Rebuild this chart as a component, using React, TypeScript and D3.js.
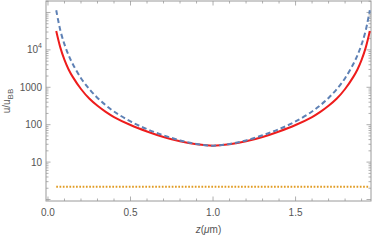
import * as d3 from "d3";

// values (z in micrometres, ratio u/u_BB)
const zValues = [0.05, 0.075, 0.1, 0.125, 0.15, 0.2, 0.25, 0.3, 0.35, 0.4, 0.5, 0.6, 0.7, 0.8, 0.9, 1.0,
  1.1, 1.2, 1.3, 1.4, 1.5, 1.6, 1.65, 1.7, 1.75, 1.8, 1.85, 1.875, 1.9, 1.925, 1.95];
const redValues = [32000, 11500, 5400, 3000, 1900, 900, 500, 320, 220, 160, 98, 66, 47, 36, 30, 27.5,
  30, 36, 47, 66, 98, 160, 220, 320, 500, 900, 1900, 3000, 5400, 11500, 32000];
const blueValues = [115000, 33000, 14000, 7200, 4200, 1750, 900, 520, 330, 225, 122, 76, 52, 38, 30.5, 27.5,
  30.5, 38, 52, 76, 122, 225, 330, 520, 900, 1750, 4200, 7200, 14000, 33000, 115000];
const orangeZ = [0.05, 1.95];
const orangeValues = [2.2, 2.2];

const xTickValues = [0, 0.5, 1, 1.5];
const xTickLabels = ["0.0", "0.5", "1.0", "1.5"];
const yTickValues = [10, 100, 1000, 10000];
const yTickLabels = ["10", "100", "1000", "10^4"];

const W = 374;
const H = 240;
const left = 46, right = 371, top = 1, bottom = 201;

export default function App() {
  const x = d3.scaleLinear().domain([-0.012, 1.957]).range([left, right]);
  const y = d3.scaleLog().domain([0.912, 10 ** 5.307]).range([bottom, top]);

  const line = d3.line<[number, number]>().x(d => x(d[0])).y(d => y(d[1])).curve(d3.curveCatmullRom.alpha(0.5));
  const red = line(zValues.map((z, i) => [z, redValues[i]] as [number, number]));
  const blue = line(zValues.map((z, i) => [z, blueValues[i]] as [number, number]));
  const orange = line(orangeZ.map((z, i) => [z, orangeValues[i]] as [number, number]));

  const frame = "#9a9a9a";
  const labelColor = "#555";
  const font = "Liberation Sans, Arial, sans-serif";

  const xMinor = d3.range(0, 1.96, 0.1).map(v => +v.toFixed(2));
  const yMinor: number[] = [];
  for (let e = 0; e <= 5; e++) {
    for (let m = 1; m <= 9; m++) {
      const v = m * 10 ** e;
      if (v <= 10 ** 5.307 && v >= 0.912) yMinor.push(v);
    }
  }

  return (
    <svg width={W} height={H} style={{ position: "absolute", left: 0, top: 0, background: "#fff" }}>
      <g>
        {/* x ticks bottom & top */}
        {xMinor.map(v => {
          const major = xTickValues.some(t => Math.abs(t - v) < 1e-6);
          const len = major ? 4.5 : 2.5;
          return (
            <g key={"xt" + v}>
              <line x1={x(v)} x2={x(v)} y1={bottom} y2={bottom - len} stroke={frame} strokeWidth={0.8} />
              <line x1={x(v)} x2={x(v)} y1={top} y2={top + len} stroke={frame} strokeWidth={0.8} />
            </g>
          );
        })}
        {/* y ticks left & right */}
        {yMinor.map(v => {
          const major = Math.abs(Math.log10(v) - Math.round(Math.log10(v))) < 1e-6;
          const len = major ? 4.5 : 2.5;
          return (
            <g key={"yt" + v}>
              <line x1={left} x2={left + len} y1={y(v)} y2={y(v)} stroke={frame} strokeWidth={0.8} />
              <line x1={right} x2={right - len} y1={y(v)} y2={y(v)} stroke={frame} strokeWidth={0.8} />
            </g>
          );
        })}
        <rect x={left} y={top} width={right - left} height={bottom - top} fill="none" stroke={frame} strokeWidth={1} />
      </g>

      <path d={orange ?? ""} fill="none" stroke="#e19c24" strokeWidth={2} strokeDasharray="1.7,1.6" />
      <path d={red ?? ""} fill="none" stroke="#ee1c1c" strokeWidth={2} />
      <path d={blue ?? ""} fill="none" stroke="#5e81b5" strokeWidth={2} strokeDasharray="5,3" />

      {xTickValues.map((v, i) => (
        <text key={"xl" + v} x={x(v)} y={bottom + 15} textAnchor="middle" fontSize={10} fill={labelColor} fontFamily={font}>
          {xTickLabels[i]}
        </text>
      ))}
      {yTickValues.map((v, i) => {
        const lab = yTickLabels[i];
        if (lab.includes("^")) {
          const [b, p] = lab.split("^");
          return (
            <text key={"yl" + v} x={left - 4} y={y(v) + 3.5} textAnchor="end" fontSize={10} fill={labelColor} fontFamily={font}>
              {b}
              <tspan fontSize={7} dy={-5}>{p}</tspan>
            </text>
          );
        }
        return (
          <text key={"yl" + v} x={left - 4} y={y(v) + 3.5} textAnchor="end" fontSize={10} fill={labelColor} fontFamily={font}>
            {lab}
          </text>
        );
      })}

      <text x={(left + right) / 2} y={233} textAnchor="middle" fontSize={10} fill={labelColor} fontFamily={font}>
        <tspan fontStyle="italic">z</tspan>(<tspan fontStyle="italic">μ</tspan>m)
      </text>
      <text transform={`translate(10,${(top + bottom) / 2}) rotate(-90)`} textAnchor="middle" fontSize={10} fill={labelColor} fontFamily={font}>
        u/u<tspan fontSize={8} dy={3}>BB</tspan>
      </text>
    </svg>
  );
}
